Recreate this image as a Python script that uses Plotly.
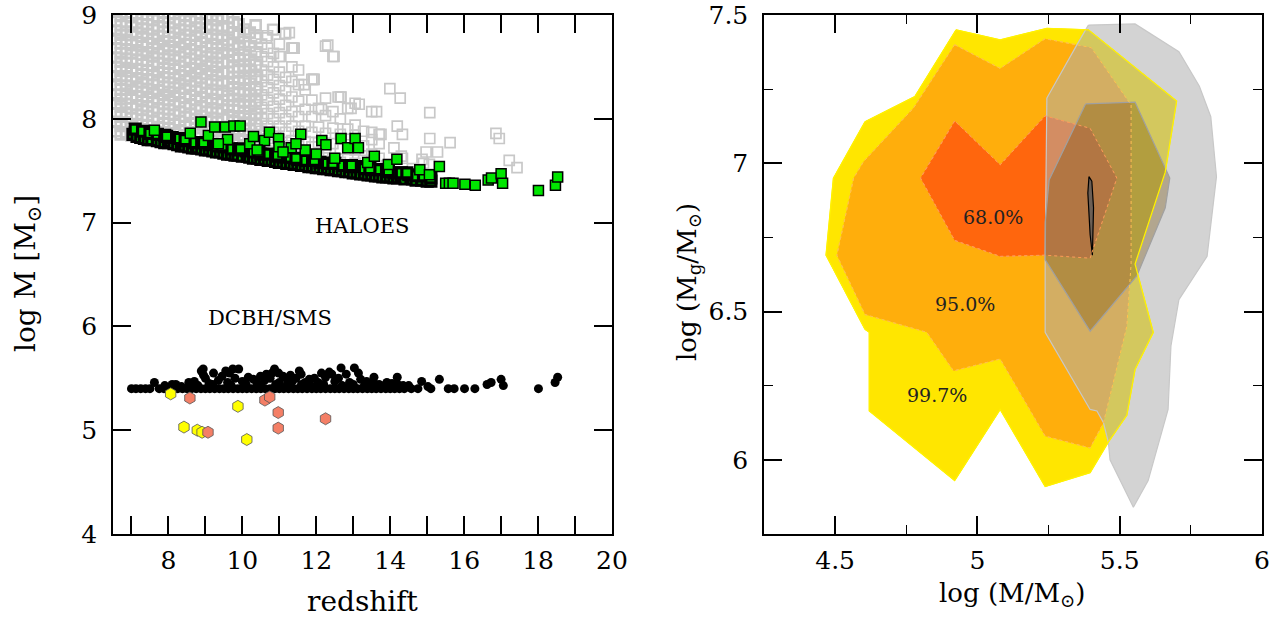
import plotly.graph_objects as go

# ---------------- LEFT PANEL DATA ----------------
# grey open squares: all haloes (columns of redshift -> list of log M)
gray_cols_dense = [
    (6.58, [7.88, 7.97, 8.05, 8.15, 8.23, 8.33, 8.41, 8.50, 8.59, 8.68, 8.77, 8.85, 8.94, 9.03]),
    (6.71, [7.85, 7.93, 8.02, 8.12, 8.19, 8.28, 8.38, 8.46, 8.55, 8.63, 8.73, 8.81, 8.90, 8.99]),
    (6.86, [7.87, 7.96, 8.06, 8.14, 8.24, 8.32, 8.41, 8.49, 8.58, 8.67, 8.76, 8.84, 8.93, 9.02]),
    (7.00, [7.84, 7.92, 8.01, 8.10, 8.20, 8.28, 8.36, 8.46, 8.54, 8.63, 8.71, 8.81, 8.89, 8.98]),
    (7.14, [7.86, 7.95, 8.04, 8.13, 8.22, 8.31, 8.39, 8.48, 8.57, 8.66, 8.74, 8.83, 8.92, 9.01]),
    (7.29, [7.82, 7.90, 7.99, 8.09, 8.17, 8.26, 8.35, 8.43, 8.52, 8.62, 8.70, 8.79, 8.87, 8.96]),
    (7.43, [7.85, 7.94, 8.03, 8.12, 8.21, 8.29, 8.38, 8.47, 8.56, 8.64, 8.73, 8.82, 8.91, 9.00]),
    (7.58, [7.81, 7.89, 7.98, 8.07, 8.16, 8.25, 8.33, 8.42, 8.51, 8.60, 8.68, 8.77, 8.86, 8.95]),
    (7.72, [7.83, 7.92, 8.01, 8.10, 8.19, 8.27, 8.37, 8.45, 8.54, 8.63, 8.72, 8.80, 8.89, 8.98]),
    (7.87, [7.79, 7.87, 7.96, 8.05, 8.14, 8.23, 8.31, 8.40, 8.49, 8.58, 8.67, 8.75, 8.84, 8.93, 9.02]),
    (8.01, [7.82, 7.91, 8.00, 8.09, 8.18, 8.26, 8.35, 8.44, 8.53, 8.61, 8.70, 8.79, 8.88, 8.97]),
    (8.16, [7.78, 7.86, 7.95, 8.04, 8.13, 8.22, 8.30, 8.39, 8.48, 8.57, 8.66, 8.74, 8.83, 8.92, 9.01]),
    (8.30, [7.80, 7.89, 7.98, 8.07, 8.16, 8.25, 8.34, 8.42, 8.51, 8.60, 8.69, 8.78, 8.86, 8.95]),
    (8.45, [7.76, 7.84, 7.93, 8.02, 8.11, 8.20, 8.29, 8.37, 8.46, 8.55, 8.64, 8.72, 8.81, 8.90, 8.99]),
    (8.59, [7.78, 7.87, 7.96, 8.05, 8.14, 8.23, 8.32, 8.41, 8.49, 8.58, 8.67, 8.76, 8.85, 8.94]),
    (8.74, [7.74, 7.82, 7.91, 8.00, 8.09, 8.18, 8.27, 8.36, 8.44, 8.53, 8.62, 8.71, 8.80, 8.88, 8.97]),
    (8.88, [7.76, 7.85, 7.94, 8.03, 8.12, 8.21, 8.30, 8.39, 8.48, 8.56, 8.65, 8.74, 8.83, 8.92, 9.01]),
    (9.03, [7.72, 7.80, 7.89, 7.98, 8.07, 8.16, 8.25, 8.34, 8.43, 8.51, 8.60, 8.69, 8.78, 8.87, 8.96]),
    (9.17, [7.74, 7.83, 7.92, 8.01, 8.10, 8.19, 8.28, 8.37, 8.46, 8.55, 8.63, 8.72, 8.81, 8.90, 8.99]),
    (9.32, [7.71, 7.79, 7.88, 7.97, 8.06, 8.15, 8.24, 8.33, 8.42, 8.50, 8.59, 8.68, 8.77, 8.86, 8.95]),
    (9.46, [7.73, 7.82, 7.91, 8.00, 8.09, 8.18, 8.27, 8.36, 8.45, 8.54, 8.63, 8.71, 8.80, 8.89, 8.97]),
    (9.61, [7.70, 7.80, 7.92, 8.02, 8.13, 8.22, 8.34, 8.45, 8.55, 8.66, 8.76, 8.88, 8.97]),
    (9.76, [7.75, 7.86, 7.97, 8.08, 8.18, 8.29, 8.40, 8.50, 8.61, 8.72, 8.83, 8.93]),
    (9.90, [7.68, 7.79, 7.90, 8.01, 8.12, 8.24, 8.35, 8.46, 8.57, 8.68, 8.80, 8.91]),
    (10.05, [7.72, 7.84, 7.95, 8.06, 8.17, 8.28, 8.39, 8.51, 8.62, 8.74, 8.86]),
    (10.20, [7.67, 7.78, 7.89, 8.00, 8.12, 8.23, 8.34, 8.46, 8.57, 8.70, 8.83]),
    (10.36, [7.70, 7.82, 7.94, 8.05, 8.17, 8.29, 8.40, 8.52, 8.64, 8.78, 8.90]),
]
gray_cols_outer = [
    (10.52, [7.65, 7.76, 7.88, 8.00, 8.11, 8.23, 8.36, 8.47, 8.60, 8.72]),
    (10.68, [7.69, 7.81, 7.93, 8.05, 8.18, 8.30, 8.42, 8.55, 8.68, 8.80]),
    (10.84, [7.64, 7.75, 7.87, 8.00, 8.12, 8.25, 8.38, 8.50, 8.63, 8.86]),
    (11.00, [7.67, 7.80, 7.93, 8.06, 8.19, 8.32, 8.45, 8.60, 8.72]),
    (11.17, [7.62, 7.74, 7.87, 8.00, 8.13, 8.27, 8.40, 8.82]),
    (11.34, [7.66, 7.79, 7.93, 8.07, 8.21, 8.36, 8.50, 8.68]),
    (11.52, [7.61, 7.74, 7.88, 8.02, 8.17, 8.33, 8.47]),
    (11.70, [7.64, 7.78, 7.93, 8.09, 8.28]),
    (11.88, [7.60, 7.73, 7.87, 8.02, 8.18, 8.38]),
    (12.06, [7.63, 7.77, 7.92, 8.10]),
    (12.25, [7.59, 7.72, 7.86, 8.03, 8.20, 8.70]),
    (12.45, [7.62, 7.76, 7.91, 8.07, 8.60]),
    (12.65, [7.58, 7.71, 7.85, 8.00, 8.21]),
    (12.85, [7.61, 7.75, 7.90, 8.10]),
    (13.05, [7.57, 7.70, 7.84, 7.94, 8.15]),
    (13.28, [7.60, 7.74, 7.88]),
    (13.50, [7.58, 7.66, 7.80, 7.87, 8.07]),
    (13.70, [7.62, 7.76, 7.85]),
]
gray_extra_z = [13.99, 14.27, 15.07, 14.19, 14.33, 13.75, 15.07, 15.62, 14.97, 15.28, 15.06,
                16.86, 16.95, 17.22, 17.43, 14.33, 14.86, 13.63, 13.16, 12.67, 12.94, 11.94,
                11.67, 11.40, 11.27, 11.15, 10.82, 10.65, 11.37, 11.04, 12.31, 12.48, 11.92,
                12.59, 12.14, 14.30, 14.90, 14.60, 13.90, 14.10]
gray_extra_m = [8.29, 8.20, 8.06, 7.93, 7.85, 7.85, 7.81, 7.77, 7.68, 7.68, 7.56,
                7.86, 7.81, 7.60, 7.53, 7.62, 7.61, 8.07, 8.14, 8.21, 8.10, 8.38,
                8.33, 8.68, 8.83, 8.82, 8.86, 8.78, 8.68, 8.60, 8.71, 8.60, 8.38,
                8.21, 8.09, 7.64, 7.57, 7.52, 7.55, 7.72]

# green squares, packed along the lower edge of the halo distribution
band_z = [7.04, 7.15, 7.25, 7.35, 7.45, 7.55, 7.70, 7.80, 7.90, 8.00, 8.07, 8.15, 8.25,
          8.35, 8.39, 8.45, 8.55, 8.65, 8.75, 8.80, 8.90, 9.00, 9.10, 9.20, 9.30, 9.40,
          9.50, 9.60, 9.70, 9.80, 9.88, 10.00, 10.13, 10.20, 10.30, 10.40, 10.50, 10.60,
          10.70, 10.80, 10.90, 11.00, 11.10, 11.20, 11.30, 11.40, 11.50, 11.60, 11.70,
          11.80, 11.90, 12.00, 12.10, 12.20, 12.30, 12.40, 12.50, 12.60, 12.70, 12.80,
          12.90, 13.00, 13.10, 13.20, 13.30, 13.40, 13.50, 13.60, 13.70, 13.80, 13.90,
          14.00, 14.10, 14.20, 14.29, 14.40, 14.56, 14.60, 14.70, 14.85, 15.00, 15.10,
          7.10, 7.30, 7.50, 7.70, 7.90, 8.10, 8.30, 8.50, 8.70, 8.90, 9.10, 9.30, 9.50,
          9.70, 9.90, 10.10, 10.30, 10.50, 10.70, 10.90, 11.10, 11.30, 11.50, 11.70,
          11.90, 12.10, 12.30, 12.50, 12.70, 12.90, 13.10, 13.30, 13.50, 13.70, 13.90,
          14.10, 14.30, 14.50, 14.70, 14.90, 15.10,
          7.95, 8.45, 8.95, 9.45, 9.95, 10.45, 10.95, 11.45, 11.95, 12.45, 12.95, 13.45,
          13.95, 14.45]
band_m = [7.85, 7.83, 7.82, 7.81, 7.80, 7.80, 7.79, 7.78, 7.77, 7.77, 7.78, 7.76, 7.75,
          7.74, 7.75, 7.74, 7.73, 7.72, 7.72, 7.72, 7.71, 7.70, 7.70, 7.69, 7.68, 7.68,
          7.67, 7.66, 7.66, 7.65, 7.65, 7.64, 7.64, 7.63, 7.62, 7.62, 7.61, 7.61,
          7.60, 7.60, 7.59, 7.58, 7.58, 7.57, 7.57, 7.56, 7.56, 7.55, 7.55,
          7.54, 7.54, 7.53, 7.53, 7.52, 7.52, 7.51, 7.51, 7.50, 7.50, 7.49,
          7.49, 7.48, 7.48, 7.47, 7.47, 7.46, 7.46, 7.45, 7.45, 7.44, 7.44,
          7.44, 7.43, 7.43, 7.45, 7.42, 7.44, 7.42, 7.41, 7.41, 7.40, 7.40,
          7.90, 7.88, 7.86, 7.85, 7.84, 7.82, 7.81, 7.79, 7.77, 7.77, 7.75, 7.74, 7.73,
          7.71, 7.70, 7.69, 7.68, 7.66, 7.66, 7.64, 7.63, 7.63, 7.61, 7.60,
          7.60, 7.58, 7.57, 7.57, 7.55, 7.54, 7.54, 7.52, 7.51, 7.51, 7.49,
          7.48, 7.48, 7.46, 7.45, 7.45, 7.43,
          7.83, 7.80, 7.77, 7.74, 7.71, 7.68, 7.65, 7.62, 7.60, 7.57, 7.55, 7.52,
          7.50, 7.48]
# green squares lying above the edge and the isolated high-redshift ones
green_z = [7.62, 8.59, 8.88, 9.08, 9.25, 9.54, 9.77, 9.94, 10.60, 10.73, 10.98, 10.99, 11.32,
           11.58, 12.15, 12.26, 12.67, 12.85, 13.05, 13.14, 13.39, 13.57, 13.95, 14.18, 14.80,
           15.06, 15.33, 9.60, 10.20, 10.40, 11.10, 11.70, 12.00, 12.50, 11.45, 10.30, 9.35,
           15.50, 15.60, 15.70, 16.02, 16.30, 16.65, 16.74, 17.00, 17.04, 18.01, 18.47, 18.53]
green_m = [7.89, 7.86, 7.97, 7.84, 7.92, 7.92, 7.93, 7.93, 7.79, 7.87, 7.81, 7.73, 7.72,
           7.85, 7.79, 7.75, 7.81, 7.72, 7.81, 7.72, 7.58, 7.64, 7.56, 7.61, 7.51,
           7.46, 7.54, 7.80, 7.76, 7.70, 7.68, 7.70, 7.66, 7.62, 7.76, 7.83, 7.76,
           7.38, 7.38, 7.38, 7.37, 7.36, 7.41, 7.43, 7.47, 7.38, 7.31, 7.36, 7.44]

# black dots: DCBH/SMS masses
bh_z = [7.00, 7.12, 7.25, 7.38, 7.50, 7.75, 7.88, 8.00, 8.12, 8.25, 8.38, 8.50, 8.62, 8.75,
        8.88, 9.00, 9.12, 9.25, 9.38, 9.50, 9.62, 9.75, 9.88, 10.00, 10.12, 10.25, 10.38, 10.50,
        10.62, 10.75, 10.88, 11.00, 11.12, 11.25, 11.38, 11.50, 11.62, 11.75, 11.88, 12.00,
        12.12, 12.25, 12.38, 12.50, 12.62, 12.75, 12.88, 13.00, 13.12, 13.25, 13.38, 13.50,
        13.62, 13.75, 13.88, 14.00, 14.12, 14.25, 14.38, 14.75, 15.10,
        7.62, 8.55, 8.89, 8.94, 9.22, 9.55, 9.74, 9.90, 10.16, 10.49, 10.65, 10.87, 10.98, 11.21,
        11.54, 11.59, 11.81, 12.14, 12.42, 12.67, 12.81, 13.03, 13.14, 13.36, 13.56, 13.91,
        14.19, 14.57, 14.85, 15.02, 15.33, 15.57, 15.73, 16.01, 16.29, 16.62, 16.73, 17.00,
        17.06, 18.01, 18.46, 18.53,
        8.70, 9.00, 9.10, 9.35, 9.45, 9.60, 9.80, 10.00, 10.30, 10.40, 10.60, 10.75, 11.00,
        11.10, 11.35, 11.45, 11.70, 11.95, 12.05, 12.25, 12.50, 12.60, 12.90, 13.20, 13.45,
        13.70, 14.05, 14.35, 7.90, 8.20, 8.35, 8.95, 9.65, 10.80, 12.35, 11.30,
        8.10, 8.80, 9.20, 9.70, 10.10, 10.50, 10.90, 11.20, 11.60, 11.85, 12.20, 12.70,
        13.00, 13.30, 13.60, 13.85, 14.20, 14.50]
bh_m = [5.40, 5.40, 5.40, 5.40, 5.40, 5.40, 5.40, 5.40, 5.40, 5.40, 5.40, 5.40, 5.40, 5.40,
        5.40, 5.40, 5.40, 5.40, 5.40, 5.40, 5.40, 5.40, 5.40, 5.40, 5.40, 5.40, 5.40, 5.40,
        5.40, 5.40, 5.40, 5.40, 5.40, 5.40, 5.40, 5.40, 5.40, 5.40, 5.40, 5.40,
        5.40, 5.40, 5.40, 5.40, 5.40, 5.40, 5.40, 5.40, 5.40, 5.40, 5.40, 5.40,
        5.40, 5.40, 5.40, 5.40, 5.40, 5.40, 5.40, 5.40, 5.40,
        5.46, 5.46, 5.57, 5.59, 5.55, 5.57, 5.59, 5.59, 5.51, 5.52, 5.54, 5.59, 5.55, 5.49,
        5.57, 5.54, 5.49, 5.55, 5.54, 5.60, 5.54, 5.60, 5.55, 5.47, 5.51, 5.46,
        5.51, 5.40, 5.47, 5.42, 5.49, 5.40, 5.40, 5.40, 5.40, 5.44, 5.46, 5.49,
        5.43, 5.40, 5.46, 5.51,
        5.47, 5.50, 5.45, 5.48, 5.52, 5.46, 5.50, 5.47, 5.49, 5.45, 5.48, 5.50, 5.46,
        5.52, 5.47, 5.50, 5.46, 5.50, 5.46, 5.51, 5.47, 5.50, 5.46, 5.49, 5.45,
        5.44, 5.45, 5.43, 5.43, 5.44, 5.42, 5.53, 5.55, 5.55, 5.56, 5.53,
        5.44, 5.43, 5.44, 5.43, 5.44, 5.43, 5.44, 5.43, 5.44, 5.43, 5.44, 5.43,
        5.44, 5.43, 5.44, 5.43, 5.44, 5.43]

yellow_z = [8.06, 8.42, 8.78, 8.91, 9.88, 10.12]
yellow_m = [5.35, 5.03, 5.00, 4.98, 5.23, 4.91]
salmon_z = [8.58, 9.07, 10.61, 10.74, 10.97, 10.97, 12.25]
salmon_m = [5.31, 4.98, 5.29, 5.32, 5.17, 5.02, 5.11]

# ---------------- RIGHT PANEL DATA (contour vertices) ----------------
c997_x = [4.925, 4.78, 4.605, 4.494, 4.468, 4.605, 4.62, 4.62, 4.92, 5.08, 5.238, 5.396, 5.46,
          5.525, 5.554, 5.618, 5.554, 5.66, 5.70, 5.39, 5.244, 5.08]
c997_y = [7.45, 7.225, 7.14, 6.95, 6.69, 6.44, 6.43, 6.165, 5.93, 6.17, 5.91, 5.957, 6.06,
          6.15, 6.305, 6.43, 6.66, 6.97, 7.21, 7.45, 7.455, 7.416]
c95_x = [4.92, 4.775, 4.60, 4.565, 4.506, 4.605, 4.822, 4.916, 5.08, 5.238, 5.396, 5.443,
         5.525, 5.54, 5.54, 5.53, 5.40, 5.35, 5.238, 5.08]
c95_y = [7.40, 7.186, 7.006, 6.95, 6.69, 6.49, 6.43, 6.30, 6.34, 6.08, 6.04, 6.125,
         6.45, 6.66, 7.20, 7.21, 7.39, 7.40, 7.42, 7.32]
c68_x = [4.92, 4.80, 4.92, 5.08, 5.238, 5.396, 5.49, 5.396, 5.238, 5.08]
c68_y = [7.143, 6.95, 6.74, 6.686, 6.69, 6.68, 6.95, 7.118, 7.16, 6.995]

g_out_x = [5.39, 5.554, 5.708, 5.78, 5.82, 5.84, 5.807, 5.708, 5.68, 5.67, 5.60, 5.548, 5.466,
           5.46, 5.443, 5.42, 5.396, 5.238, 5.238, 5.244, 5.35]
g_out_y = [7.466, 7.47, 7.376, 7.26, 7.157, 6.955, 6.686, 6.54, 6.384, 6.17, 5.93, 5.84, 6.0,
           6.06, 6.125, 6.165, 6.17, 6.43, 6.675, 7.22, 7.40]
g_mid_x = [5.38, 5.554, 5.676, 5.66, 5.56, 5.396, 5.238, 5.238, 5.252]
g_mid_y = [7.20, 7.206, 6.95, 6.85, 6.62, 6.434, 6.675, 6.80, 6.944]
g_in_x = [5.392, 5.402, 5.408, 5.404, 5.396, 5.388]
g_in_y = [6.955, 6.94, 6.85, 6.69, 6.76, 6.90]

labels = ["68.0%", "95.0%", "99.7%"]
label_x = [5.053, 4.957, 4.857]
label_y = [6.82, 6.524, 6.22]

# ---------------- FIGURE ----------------
def flatten(cols):
    zs, ms = [], []
    for z, vals in cols:
        for m in vals:
            zs.append(z)
            ms.append(m)
    return zs, ms

dense_z, dense_m = flatten(gray_cols_dense)
outer_z, outer_m = flatten(gray_cols_outer)
outer_z += gray_extra_z
outer_m += gray_extra_m

fig = go.Figure()
fig.add_trace(go.Scatter(x=dense_z, y=dense_m, mode="markers", xaxis="x", yaxis="y",
                         marker=dict(symbol="square-open", size=10, color="#c8c8c8",
                                     line=dict(width=2.6, color="#c8c8c8"))))
fig.add_trace(go.Scatter(x=outer_z, y=outer_m, mode="markers", xaxis="x", yaxis="y",
                         marker=dict(symbol="square-open", size=10, color="#c8c8c8",
                                     line=dict(width=1.7, color="#c8c8c8"))))
fig.add_trace(go.Scatter(x=band_z, y=band_m, mode="markers", xaxis="x", yaxis="y",
                         marker=dict(symbol="square", size=10, color="#00e600",
                                     line=dict(width=3.2, color="black"))))
fig.add_trace(go.Scatter(x=green_z, y=green_m, mode="markers", xaxis="x", yaxis="y",
                         marker=dict(symbol="square", size=10, color="#00e600",
                                     line=dict(width=1.5, color="black"))))
fig.add_trace(go.Scatter(x=bh_z, y=bh_m, mode="markers", xaxis="x", yaxis="y",
                         marker=dict(symbol="circle", size=9, color="black",
                                     line=dict(width=0))))
fig.add_trace(go.Scatter(x=yellow_z, y=yellow_m, mode="markers", xaxis="x", yaxis="y",
                         marker=dict(symbol="hexagon", size=12, color="#ffff00",
                                     line=dict(width=0.8, color="#555555"))))
fig.add_trace(go.Scatter(x=salmon_z, y=salmon_m, mode="markers", xaxis="x", yaxis="y",
                         marker=dict(symbol="hexagon", size=12, color="#f47f66",
                                     line=dict(width=0.8, color="#555555"))))


def poly(xs, ys, fill, line_color, width=1.0, dash="solid"):
    fig.add_trace(go.Scatter(x=xs + xs[:1], y=ys + ys[:1], mode="lines", fill="toself",
                             fillcolor=fill, xaxis="x2", yaxis="y2",
                             line=dict(color=line_color, width=width, dash=dash)))


def outline(xs, ys, line_color, width=1.0, dash="solid"):
    fig.add_trace(go.Scatter(x=xs + xs[:1], y=ys + ys[:1], mode="lines", xaxis="x2", yaxis="y2",
                             line=dict(color=line_color, width=width, dash=dash)))


poly(c997_x, c997_y, "#ffe600", "#ffe600")
poly(c95_x, c95_y, "#ffae0c", "#ffc24a", 1.0, "dot")
poly(c68_x, c68_y, "#ff660d", "#ffa060", 1.0, "dot")
poly(g_out_x, g_out_y, "rgba(174,174,174,0.54)", "#c8c8c8", 1.2)
poly(g_mid_x, g_mid_y, "rgba(110,70,0,0.32)", "#a0a0a0", 1.2)
poly(g_in_x, g_in_y, "rgba(90,90,90,0.8)", "black", 1.2)
outline(c997_x, c997_y, "#fff200", 1.3)
outline(c95_x, c95_y, "#ffc24a", 1.0, "dot")
outline(c68_x, c68_y, "#ff9a50", 1.0, "dot")

serif = "DejaVu Serif"
for t, x, y in zip(labels, label_x, label_y):
    fig.add_annotation(x=x, y=y, xref="x2", yref="y2", text=t, showarrow=False,
                       xanchor="center", yanchor="middle",
                       font=dict(family=serif, size=19, color="#222222"))

fig.add_annotation(x=13.24, y=6.97, xref="x", yref="y", text="HALOES", showarrow=False,
                   xanchor="center", yanchor="middle",
                   font=dict(family=serif, size=21, color="black"))
fig.add_annotation(x=10.74, y=6.08, xref="x", yref="y", text="DCBH/SMS", showarrow=False,
                   xanchor="center", yanchor="middle",
                   font=dict(family=serif, size=21, color="black"))

W, H = 1275, 618
def px(x):
    return x / W
def py(y):
    return 1 - y / H

title_font = dict(family=serif, color="black")
fig.add_annotation(x=px(363), y=py(601), xref="paper", yref="paper", text="redshift",
                   showarrow=False, xanchor="center", yanchor="middle",
                   font=dict(size=28, **title_font))
fig.add_annotation(x=px(28), y=py(274), xref="paper", yref="paper",
                   text="log M [M<sub>⊙</sub>]", textangle=-90, xanchor="center", yanchor="middle",
                   showarrow=False, font=dict(size=28, **title_font))
fig.add_annotation(x=px(1012), y=py(594), xref="paper", yref="paper",
                   text="log (M/M<sub>⊙</sub>)", showarrow=False, xanchor="center", yanchor="middle",
                   font=dict(size=26, **title_font))
fig.add_annotation(x=px(688), y=py(282), xref="paper", yref="paper",
                   text="log (M<sub>g</sub>/M<sub>⊙</sub>)", textangle=-90,
                   xanchor="center", yanchor="middle",
                   showarrow=False, font=dict(size=26, **title_font))

axis_common = dict(showgrid=False, zeroline=False, showline=True, linecolor="black",
                   linewidth=1.5, mirror="allticks", ticks="inside", tickcolor="black",
                   tickwidth=1.5, ticklen=18, automargin=False,
                   tickfont=dict(family=serif, size=25, color="black"))

fig.update_layout(
    width=W, height=H, margin=dict(l=0, r=0, t=0, b=0, autoexpand=False),
    paper_bgcolor="white", plot_bgcolor="white", showlegend=False,
    xaxis=dict(domain=[px(113), px(612)], range=[6.5, 20], dtick=2, tick0=0,
               ticklabelstandoff=3,
               minor=dict(dtick=1, ticklen=18, tickwidth=1.5, tickcolor="black", ticks="inside"),
               anchor="y", **axis_common),
    yaxis=dict(domain=[py(534), py(15)], range=[4, 9], dtick=1, anchor="x",
               ticklabelstandoff=9, **axis_common),
    xaxis2=dict(domain=[px(764), px(1262)], range=[4.25, 6], dtick=0.5, tick0=0,
                ticklabelstandoff=3,
                minor=dict(dtick=0.25, ticklen=9, tickwidth=1.2, tickcolor="black", ticks="inside"),
                anchor="y2", **axis_common),
    yaxis2=dict(domain=[py(534), py(15)], range=[5.75, 7.5], dtick=0.5, tick0=0,
                ticklabelstandoff=9,
                minor=dict(dtick=0.25, ticklen=9, tickwidth=1.2, tickcolor="black", ticks="inside"),
                anchor="x2", **axis_common),
)

fig.write_html("out.html")
